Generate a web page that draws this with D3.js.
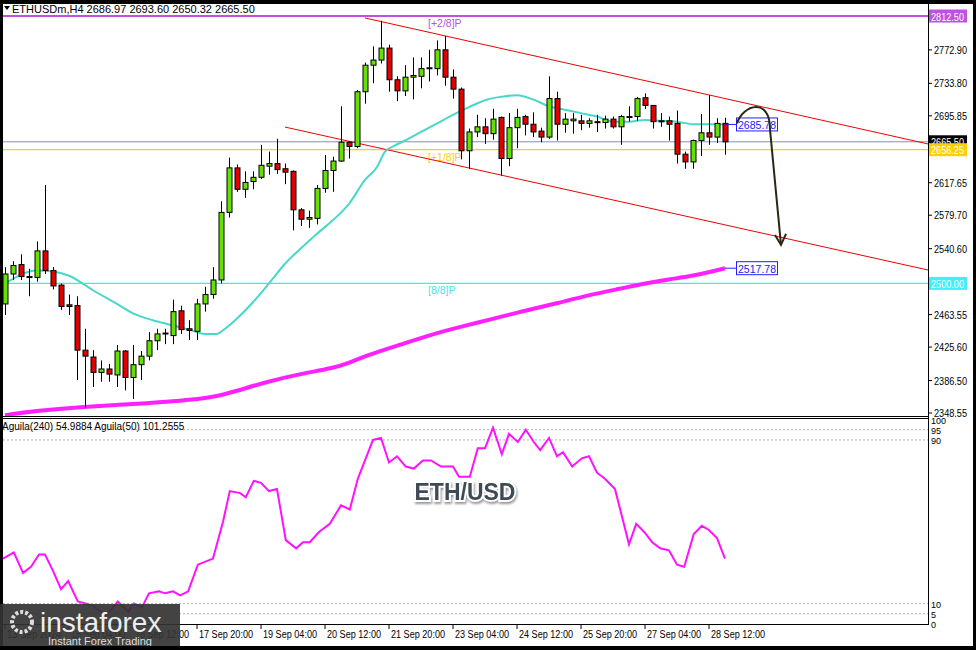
<!DOCTYPE html>
<html><head><meta charset="utf-8">
<script src="https://cdn.jsdelivr.net/npm/d3@7"></script>
<style>body{margin:0;background:#000}svg{display:block}text{font-family:"Liberation Sans",Arial,sans-serif}</style>
</head><body><svg id="c" width="976" height="650"></svg>
<script>
const title = "ETHUSDm,H4  2686.97 2693.60 2650.32 2665.50";
const opens  = [2476,2511,2522,2508,2507,2538,2515,2498,2475,2474,2422,2414,2396,2400,2393,2421,2390,2405,2415,2433,2441,2439,2468,2447,2444,2476,2487,2504,2583,2635,2610,2619,2624,2637,2640,2634,2631,2586,2575,2576,2611,2632,2643,2665,2660,2724,2755,2761,2775,2738,2725,2741,2742,2751,2751,2773,2741,2727,2655,2677,2683,2675,2694,2646,2682,2695,2686,2678,2671,2716,2686,2690,2690,2687,2688,2688,2692,2683,2694,2695,2717,2708,2690,2690,2687,2651,2642,2667,2676,2671,2687];
const highs  = [2519,2526,2534,2517,2549,2615,2519,2500,2487,2485,2447,2422,2410,2406,2428,2422,2428,2421,2443,2447,2447,2481,2474,2457,2482,2496,2519,2596,2647,2639,2631,2631,2662,2654,2669,2640,2632,2588,2585,2615,2650,2648,2707,2666,2726,2758,2777,2807,2779,2742,2755,2764,2764,2773,2784,2789,2750,2729,2681,2697,2693,2704,2695,2699,2704,2697,2700,2682,2742,2724,2699,2699,2697,2693,2697,2696,2695,2697,2707,2718,2722,2708,2699,2695,2702,2654,2668,2698,2720,2693,2693.6];
const lows   = [2463,2504,2504,2485,2502,2511,2493,2469,2463,2387,2355,2379,2385,2385,2379,2375,2365,2387,2410,2422,2429,2429,2441,2434,2434,2467,2482,2500,2577,2607,2600,2610,2622,2627,2628,2616,2562,2567,2565,2569,2606,2607,2642,2646,2658,2710,2734,2757,2724,2713,2719,2715,2728,2736,2743,2731,2716,2645,2634,2671,2663,2668,2626,2637,2658,2673,2671,2665,2669,2667,2676,2675,2679,2682,2677,2681,2681,2662,2689,2690,2704,2681,2683,2667,2640,2634,2634,2649,2662,2664,2650.3];
const closes = [2511,2521,2508,2507,2538,2515,2497,2473,2473,2422,2415,2396,2400,2394,2421,2390,2405,2415,2433,2441,2442,2467,2446,2445,2476,2487,2504,2583,2635,2610,2618,2624,2638,2640,2633,2630,2586,2575,2577,2611,2632,2643,2665,2660,2724,2755,2761,2775,2738,2725,2741,2743,2751,2752,2773,2741,2727,2655,2677,2683,2675,2692,2646,2682,2694,2686,2677,2671,2716,2686,2692,2692,2687,2690,2689,2692,2683,2695,2695,2716,2708,2689,2689,2686,2651,2642,2667,2676,2671,2687,2665.5];
const maIdx  = [1,5,7,9,12,15,17,19.5,21.5,24,26,27.5,28.5,30,32,34,36,38,40,42,44,46,47.5,48.5,49.5,51,53,55,57,59,61.3,63,65,67,69,71,73,75,77,79,81,83,85,87,89,91];
const maVal  = [2500,2515,2514,2509,2492,2476,2465,2457,2452,2446,2441,2441,2447,2459,2478,2500,2523,2541,2558,2574,2593,2621,2636,2654,2660,2667,2677,2687,2697,2706,2715,2718,2720,2715,2707,2703,2699,2695,2689,2689,2691,2690,2689,2686,2686,2685.78];
const ma2Idx = [1,4.5,11,17,23.2,27,29.5,33.7,37.8,42,44,46.2,50.3,54.5,58.7,61.3,65.5,69.7,73.8,78,81,84.2,87.2,91];
const ma2Val = [2346,2351,2356,2359,2363,2367,2373,2385,2394,2401,2407,2416,2428,2441,2451,2457,2467,2476,2486,2494,2500,2505,2509,2517.78];
const chanUpper = {i:[46,116.4], p:[2810.2,2662.9]};
const chanLower = {i:[36,116.4], p:[2682.7,2515.6]};
const priceTicks = [2772.90,2733.80,2695.85,2617.65,2579.70,2540.60,2463.55,2425.60,2386.50,2348.55];
const levels = [{p:2812.50,c:"#c050e0",label:"[+2/8]P"},{p:2656.25,c:"#ffd000",label:"[+1/8]P"},{p:2500.00,c:"#40e8f0",label:"[8/8]P"}];
const lastPrice = 2665.50;
const oscIdx = [0.75,2.1,3.25,4.25,5.25,6,7,8,8.9,10.1,12,13.6,15.1,16.4,17.1,18.1,19,20.25,21,22,22.9,23.9,25.1,27,28.25,29.1,30.4,31.1,32.1,33,34,35,36.1,37.4,38.25,39.1,40.25,41.6,43,44.1,45.1,47,48,49,50,51.1,52.1,53.25,54.25,55.5,57,57.75,59.1,60.1,61,62,63.1,64,65.1,66.1,67.1,67.9,69,70,70.75,71.9,73.1,74,75,76,77.25,79,79.9,80.9,81.9,82.9,84,85,85.9,87.1,88.1,89,90,91];
const oscVal = [32,35,25,28,34,34,26,17,21,11,9,4,11,6,10,8,15,16,15,16,14,16,29,32,50,65,64,62,70,69,65,66,41,37,40,40,45,49,58,56,71,90,91,79,82,77,76,80,80,77,77,72,72,86,86,96,83,93,89,95,89,85,91,82,84,77,81,82,74,71,66,39,49,45,40,37,36,29,28,44,48,46,42,32];
const oscLevels = [95,90,10,5];
const oscLabels = ["100","95","90","10","5","0"];
const timeIdx = [0,8,16,24,32,40,48,56,64,72,80,88];
const timeLabels = ["13 Sep 2024","15 Sep 04:00","16 Sep 12:00","17 Sep 20:00","19 Sep 04:00","20 Sep 12:00","21 Sep 20:00","23 Sep 04:00","24 Sep 12:00","25 Sep 20:00","27 Sep 04:00","28 Sep 12:00"];

const svg = d3.select("#c");
svg.append("rect").attr("x",3).attr("y",4).attr("width",970).attr("height",642).attr("fill","#fff");
const x = d3.scaleLinear().domain([1,91]).range([5,725]);
const y = d3.scaleLinear().domain([2348.55,2812.5]).range([413,16]);
const yo = d3.scaleLinear().domain([0,100]).range([624,419.5]);
const defs = svg.append("defs");
defs.append("clipPath").attr("id","mc").append("rect").attr("x",3).attr("y",5).attr("width",925).attr("height",411);
svg.append("line").attr("x1",928.5).attr("x2",928.5).attr("y1",4).attr("y2",625).attr("stroke","#000");
svg.append("line").attr("x1",3).attr("x2",928).attr("y1",416.5).attr("y2",416.5).attr("stroke","#000");
svg.append("line").attr("x1",3).attr("x2",928).attr("y1",418.5).attr("y2",418.5).attr("stroke","#000");
svg.append("line").attr("x1",3).attr("x2",928).attr("y1",624.5).attr("y2",624.5).attr("stroke","#000");
const g = svg.append("g").attr("clip-path","url(#mc)");
g.append("line").attr("x1",3).attr("x2",928).attr("y1",y(lastPrice)).attr("y2",y(lastPrice)).attr("stroke","#8890b0");
levels.forEach(l=>{
  g.append("line").attr("x1",3).attr("x2",928).attr("y1",y(l.p)).attr("y2",y(l.p)).attr("stroke",l.c).attr("stroke-width",l.p>2800?2:1.2);
  g.append("text").attr("x",428).attr("y",y(l.p)+11).attr("fill",l.c).attr("font-size",10.5).text(l.label);
});
[chanUpper,chanLower].forEach(ch=>g.append("line").attr("x1",x(ch.i[0])).attr("y1",y(ch.p[0])).attr("x2",x(ch.i[1])).attr("y2",y(ch.p[1])).attr("stroke","#f00000").attr("stroke-width",1));
g.append("path").datum(ma2Idx.map((d,k)=>[d,ma2Val[k]])).attr("d",d3.line().x(d=>x(d[0])).y(d=>y(d[1])).curve(d3.curveBasis)).attr("fill","none").attr("stroke","#ff20ff").attr("stroke-width",4);
g.append("path").datum(maIdx.map((d,k)=>[d,maVal[k]])).attr("d",d3.line().x(d=>x(d[0])).y(d=>y(d[1])).curve(d3.curveMonotoneX)).attr("fill","none").attr("stroke","#48d8c8").attr("stroke-width",2);
closes.forEach((c,k)=>{
  const i=k+1, o=opens[k], xx=Math.round(x(i))+0.5;
  g.append("line").attr("x1",xx).attr("x2",xx).attr("y1",y(highs[k])).attr("y2",y(lows[k])).attr("stroke","#000");
  const top=y(Math.max(o,c)), bot=y(Math.min(o,c));
  g.append("rect").attr("x",xx-2.5).attr("y",top).attr("width",5).attr("height",Math.max(1,bot-top))
   .attr("fill",c>o?"#66e000":(c<o?"#e00000":"#000")).attr("stroke","#000").attr("stroke-width",1);
});
[[maVal[maVal.length-1],"2685.78"],[ma2Val[ma2Val.length-1],"2517.78"]].forEach(([v,t])=>{
  const yy=y(v);
  svg.append("line").attr("x1",x(91)).attr("x2",737).attr("y1",yy).attr("y2",yy).attr("stroke","#2020ff");
  svg.append("rect").attr("x",736.5).attr("y",yy-6.5).attr("width",41).attr("height",13).attr("fill","#fff").attr("stroke","#2020ff");
  svg.append("text").attr("x",738).attr("y",yy+4.5).attr("fill","#2020ff").attr("font-size",11).attr("textLength",38).attr("lengthAdjust","spacingAndGlyphs").text(t);
});
const ax=[x(91)+12,757,770,781], ay=[y(2687),y(2702),y(2680),y(2545)];
svg.append("path").attr("d",`M${ax[0]},${ay[0]} C${ax[0]+6},${ay[1]-6} ${ax[2]},${ay[1]-14} ${ax[2]},${ay[2]} L${ax[3]},${ay[3]}`).attr("fill","none").attr("stroke","#2b2618").attr("stroke-width",2);
svg.append("path").attr("d",`M${ax[3]-6},${ay[3]-10} L${ax[3]},${ay[3]} L${ax[3]+5},${ay[3]-11}`).attr("fill","none").attr("stroke","#2b2618").attr("stroke-width",2);
const lab=(xx,yy,t,fs,fill,len)=>svg.append("text").attr("x",xx).attr("y",yy).attr("font-size",fs).attr("fill",fill).attr("textLength",len).attr("lengthAdjust","spacingAndGlyphs").text(t);
priceTicks.forEach(p=>{
  svg.append("line").attr("x1",928).attr("x2",932).attr("y1",y(p)).attr("y2",y(p)).attr("stroke","#000");
  lab(934,y(p)+4,p.toFixed(2),10.5,"#000",33);
});
const tag=(p,bg,fg,t)=>{svg.append("rect").attr("x",929).attr("y",y(p)-6.5).attr("width",38).attr("height",13).attr("fill",bg);
  lab(931,y(p)+4.5,t,10.5,fg,33);};
tag(lastPrice,"#000","#fff",lastPrice.toFixed(2));
tag(2812.5,"#c050e0","#fff","2812.50");
tag(2656.25,"#ffd000","#fff","2656.25");
tag(2500,"#40f0f8","#fff","2500.00");
svg.append("path").attr("d","M4,6 L10,6 L7,10 Z").attr("fill","#000");
svg.append("text").attr("x",12).attr("y",13).attr("font-size",11).attr("fill","#000").text(title);
oscLevels.forEach(v=>svg.append("line").attr("x1",3).attr("x2",928).attr("y1",yo(v)).attr("y2",yo(v)).attr("stroke","#b0b0b0").attr("stroke-dasharray","2,2"));
[100,95,90,10,5,0].forEach((v,k)=>svg.append("text").attr("x",931).attr("y",yo(v)+4).attr("font-size",9).text(oscLabels[k]));
svg.append("path").datum(oscIdx.map((d,k)=>[d,oscVal[k]])).attr("d",d3.line().x(d=>x(d[0])).y(d=>yo(d[1]))).attr("fill","none").attr("stroke","#ff10ff").attr("stroke-width",2);
svg.append("text").attr("x",2).attr("y",430).attr("font-size",10).text("Aguila(240) 54.9884  Aguila(50) 101.2555");
svg.append("text").attr("x",465).attr("y",500).attr("text-anchor","middle").attr("font-size",23).attr("font-weight","bold").attr("fill","#3e4a56").attr("stroke","#fff").attr("stroke-width",4).attr("paint-order","stroke").attr("style","filter:drop-shadow(1px 2px 1px rgba(0,0,0,0.4))").text("ETH/USD");
timeIdx.forEach((t,k)=>{
  svg.append("line").attr("x1",x(t+1)).attr("x2",x(t+1)).attr("y1",625).attr("y2",629).attr("stroke","#000");
  lab(x(t+1)+2,638,timeLabels[k],10,"#000",54);
});
svg.append("rect").attr("x",0).attr("y",604).attr("width",180).attr("height",44).attr("fill","#333").attr("opacity",0.92);
svg.append("circle").attr("cx",22).attr("cy",622).attr("r",10).attr("fill","none").attr("stroke","#ddd").attr("stroke-width",4).attr("stroke-dasharray","3,2");
svg.append("text").attr("x",40).attr("y",632).attr("font-size",28).attr("fill","#eee").text("instaforex");
svg.append("text").attr("x",48).attr("y",645).attr("font-size",11).attr("fill","#ddd").text("Instant Forex Trading");
svg.append("rect").attr("x",0).attr("y",646).attr("width",976).attr("height",4).attr("fill","#000");
</script></body></html>
